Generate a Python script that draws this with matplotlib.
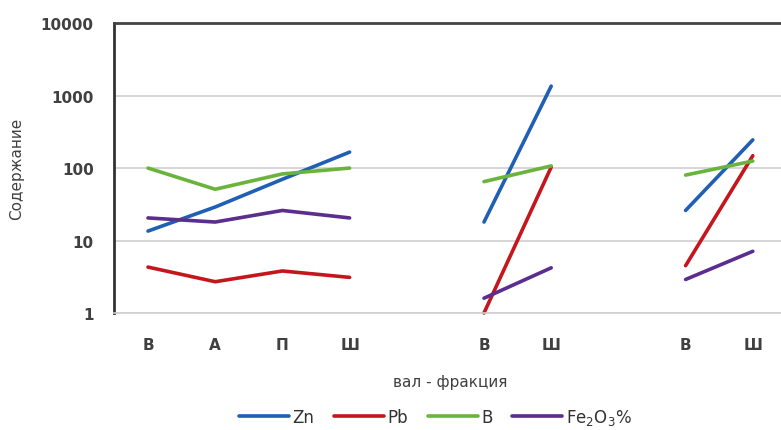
import numpy as np
import matplotlib
matplotlib.use("Agg")
import matplotlib.pyplot as plt

categories = ["В", "А", "П", "Ш", "", "В", "Ш", "", "В", "Ш"]
nan = np.nan
zn = [13.5, 29, 70, 166, nan, 18, 1350, nan, 26, 245]
pb = [4.3, 2.7, 3.8, 3.1, nan, 1.0, 103, nan, 4.5, 148]
b = [100, 51, 83, 100, nan, 65, 107, nan, 80, 125]
fe = [20.5, 18, 26, 20.5, nan, 1.6, 4.2, nan, 2.9, 7.1]

series = [("Zn", zn, "#1f5fb4"), ("Pb", pb, "#c4161c"), ("B", b, "#6ab43e"),
          (r"Fe$_2$O$_3$%", fe, "#5a2d8f")]

fig = plt.figure(figsize=(7.81, 4.31), dpi=100)
ax = fig.add_axes([114.4 / 781, 0.2715, 672 / 781, 0.6725])
x = np.arange(len(categories))
for name, vals, col in series:
    ax.plot(x, vals, color=col, lw=2.6, label=name, solid_capstyle="round", clip_on=False)

ax.set_yscale("log")
ax.set_ylim(1, 10000)
ax.set_xlim(-0.5, 9.5)
ax.set_yticks([1, 10, 100, 1000, 10000])
ax.set_yticklabels(["1", "10", "100", "1000", "10000"])
ax.minorticks_off()
ax.set_xticks(x)
ax.set_xticklabels(categories)
ax.tick_params(axis="both", length=0, labelsize=11, colors="#404040")
ax.tick_params(axis="x", pad=17)
ax.tick_params(axis="y", pad=15)
for lab in ax.get_yticklabels() + ax.get_xticklabels():
    lab.set_fontweight("bold")
ax.yaxis.grid(True, color="#d0d0d0", lw=1.2)
ax.set_axisbelow(True)
ax.spines["right"].set_visible(False)
ax.spines["left"].set_color("#333333")
ax.spines["left"].set_linewidth(2)
ax.spines["top"].set_color("#444444")
ax.spines["top"].set_linewidth(2)
ax.spines["bottom"].set_color("#d0d0d0")
ax.spines["bottom"].set_linewidth(1.2)

ax.set_ylabel("Содержание", fontsize=11, color="#404040", labelpad=12)
ax.set_xlabel("вал - фракция", fontsize=11, color="#404040", labelpad=16)

leg = fig.legend(loc="center", bbox_to_anchor=(435 / 781, 0.03), ncol=4, frameon=False,
                 fontsize=12, handlelength=3.0, handletextpad=0.2, columnspacing=1.2)
for t in leg.get_texts():
    t.set_color("#333333")

fig.savefig("out.png", dpi=100)
